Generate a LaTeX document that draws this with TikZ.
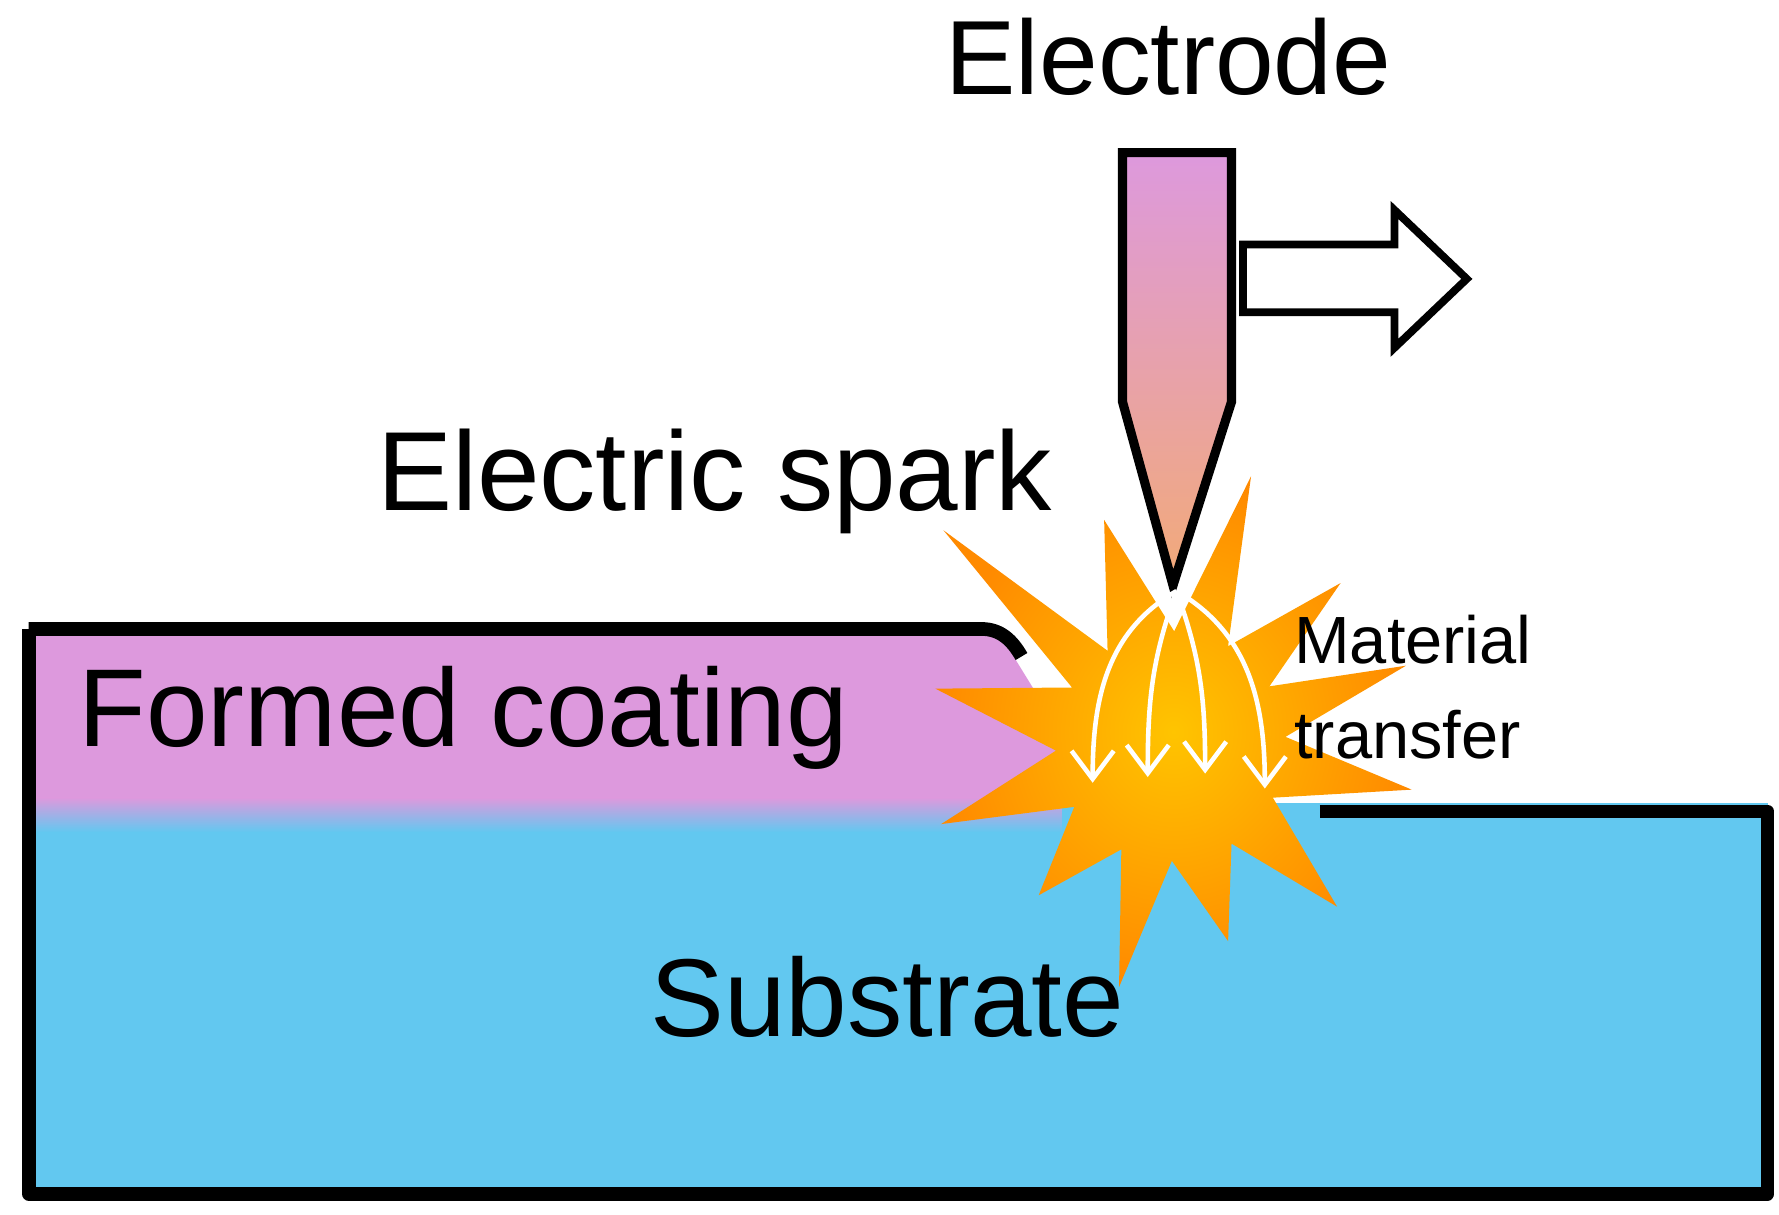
\documentclass[tikz,border=0pt]{standalone}
\usepackage{fontspec}
\setmainfont{Liberation Sans}
\usetikzlibrary{arrows.meta}
\definecolor{coatpink}{HTML}{DD99DD}
\definecolor{subblue}{HTML}{62C8F0}
\definecolor{tiporange}{HTML}{F2AA78}
\definecolor{sparkout}{HTML}{FF8A00}
\definecolor{sparkin}{HTML}{FFC400}
\tikzset{
  outline/.style={line width=3.9pt,line join=round},
  label/.style={inner sep=0pt,anchor=base west},
  transfer/.style={white,line width=1.3pt,-{Straight Barb[length=8pt,width=12pt]}}
}

\begin{document}
\begin{tikzpicture}[x=0.01148cm,y=-0.01148cm]
  \useasboundingbox (0,0) rectangle (1550,1058);

  % substrate and coating
  \fill[subblue] (25,700) rectangle (1540,1040);
  \fill[coatpink] (25,548) -- (860,548) to[out=0,in=120] (885,575) -- (925,640) -- (925,700) -- (25,700) -- cycle;
  \shade[top color=coatpink,bottom color=subblue] (25,695) rectangle (925,725);
  \fill[white] (1150,560) rectangle (1545,700);
  \draw[outline] (25,548) -- (855,548) to[out=0,in=120] (890,572);
  \draw[outline] (1150,707) -- (1540,707) -- (1540,1040) -- (25,1040) -- (25,548);

  % spark
  \shade[inner color=sparkin,outer color=sparkout]
    (1230,688) -- (1109,695) -- (1165,790) -- (1073,735) -- (1070,820) -- (1021,750)
    -- (975,860) -- (977,740) -- (905,780) -- (936,703) -- (820,718) -- (920,654)
    -- (815,600) -- (934,599) -- (822,462) -- (965,567) -- (962,453) -- (1023,550)
    -- (1090,415) -- (1070,563) -- (1168,508) -- (1106,598) -- (1225,580) -- (1120,642) -- cycle;

  % electrode
  \shade[top color=coatpink,bottom color=tiporange,draw=black,line width=2.6pt,line join=miter]
    (978,133) -- (1073,133) -- (1073,350) -- (1022,510) -- (978,350) -- cycle;
  \coordinate (tip) at (1025,515);
  \draw[fill=white,line width=2.2pt,line join=miter] (1083,213) -- (1215,213) -- (1215,183)
    -- (1278,243) -- (1215,303) -- (1215,272) -- (1083,272) -- cycle;

  % material transfer
  \coordinate (d1) at (952,682);
  \coordinate (d2) at (1000,677);
  \coordinate (d3) at (1050,674);
  \coordinate (d4) at (1102,687);
  \draw[transfer] (tip) to[out=210,in=90] (d1);
  \draw[transfer] (tip) to[out=250,in=90] (d2);
  \draw[transfer] (tip) to[out=290,in=90] (d3);
  \draw[transfer] (tip) to[out=330,in=90] (d4);

  % labels
  \node[font=\fontsize{30}{36}\selectfont,anchor=base] (electrode) at (1018,82) {Electrode};
  \node[font=\fontsize{32}{38}\selectfont,label] (spark) at (328,445) {Electric spark};
  \node[font=\fontsize{31.5}{38}\selectfont,label] (coating) at (68,650) {Formed coating};
  \node[font=\fontsize{31.5}{38}\selectfont,label] (substrate) at (566,903) {Substrate};
  \node[font=\fontsize{19}{27}\selectfont,align=left,anchor=north west,inner sep=0pt]
    (transferlbl) at (1127,535) {Material\\transfer};
\end{tikzpicture}
\end{document}
